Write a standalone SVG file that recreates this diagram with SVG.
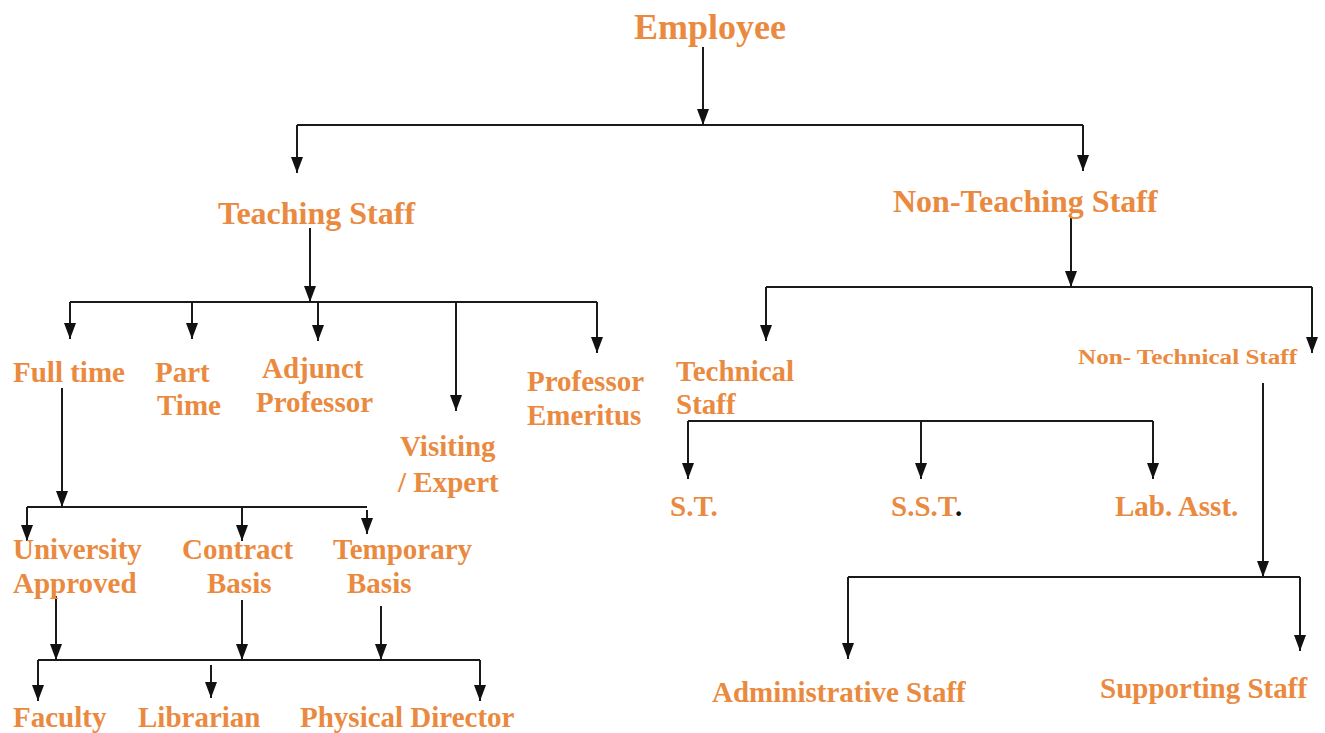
<svg xmlns="http://www.w3.org/2000/svg" width="1325" height="733" viewBox="0 0 1325 733">
  <defs>
    <marker id="arrow" viewBox="0 0 16 12" refX="16" refY="6" markerWidth="16" markerHeight="12" markerUnits="userSpaceOnUse" orient="auto">
      <path d="M0,0 L16,6 L0,12 z" fill="#111"/>
    </marker>
  </defs>
  <style>
    text { font-family: "Liberation Serif", "Times New Roman", serif; font-weight: bold; fill: #EA8A40; font-size: 29px; }
    .root { font-size: 36px; }
    .l1 { font-size: 32px; }
    .small { font-size: 20px; }
    .dot { fill: #111; }
    .bar { fill: none; stroke: #1a1a1a; stroke-width: 2; }
    .arr { fill: none; stroke: #1a1a1a; stroke-width: 2; marker-end: url(#arrow); }
  </style>
  <rect width="1325" height="733" fill="#fff"/>

  <!-- connectors -->
  <g id="connectors">
    <!-- Employee -->
    <path class="arr" d="M703,47 V125"/>
    <path class="bar" d="M297,125 H1083"/>
    <path class="arr" d="M297,125 V173"/>
    <path class="arr" d="M1083,125 V171"/>
    <!-- Teaching Staff -->
    <path class="arr" d="M310,228 V302"/>
    <path class="bar" d="M70,302 H597"/>
    <path class="arr" d="M70,302 V339"/>
    <path class="arr" d="M192,302 V339"/>
    <path class="arr" d="M318,302 V341"/>
    <path class="arr" d="M456,302 V411"/>
    <path class="arr" d="M597,302 V353"/>
    <!-- Full time -->
    <path class="arr" d="M62,388 V507"/>
    <path class="bar" d="M27,507 H367"/>
    <path class="arr" d="M27,507 V541"/>
    <path class="arr" d="M242,507 V541"/>
    <path class="arr" d="M367,510 V534"/>
    <!-- employment basis to posts -->
    <path class="arr" d="M56,596 V660"/>
    <path class="arr" d="M242,600 V660"/>
    <path class="arr" d="M381,606 V660"/>
    <path class="bar" d="M38,660 H480"/>
    <path class="arr" d="M38,660 V701"/>
    <path class="arr" d="M211,665 V698"/>
    <path class="arr" d="M480,660 V701"/>
    <!-- Non-Teaching Staff -->
    <path class="arr" d="M1071,218 V287"/>
    <path class="bar" d="M766,287 H1312"/>
    <path class="arr" d="M766,287 V341"/>
    <path class="arr" d="M1312,287 V353"/>
    <!-- Technical Staff -->
    <path class="bar" d="M688,421 H1153"/>
    <path class="arr" d="M688,421 V479"/>
    <path class="arr" d="M921,421 V479"/>
    <path class="arr" d="M1153,421 V479"/>
    <!-- Non- Technical Staff -->
    <path class="arr" d="M1263,383 V577"/>
    <path class="bar" d="M848,577 H1300"/>
    <path class="arr" d="M848,577 V659"/>
    <path class="arr" d="M1300,577 V651"/>
  </g>

  <!-- nodes -->
  <g id="employee"><text class="root" x="634" y="39">Employee</text></g>
  <g id="teaching-staff"><text class="l1" x="218" y="224">Teaching Staff</text></g>
  <g id="non-teaching-staff"><text class="l1" x="893" y="212">Non-Teaching Staff</text></g>

  <g id="full-time"><text x="13" y="382">Full time</text></g>
  <g id="part-time"><text x="155" y="382">Part</text><text x="157" y="415">Time</text></g>
  <g id="adjunct-professor"><text x="262" y="378">Adjunct</text><text x="256" y="412">Professor</text></g>
  <g id="visiting-expert"><text x="400" y="456">Visiting</text><text x="398" y="492">/ Expert</text></g>
  <g id="professor-emeritus"><text x="527" y="391">Professor</text><text x="527" y="425">Emeritus</text></g>

  <g id="university-approved"><text x="13" y="559">University</text><text x="13" y="593">Approved</text></g>
  <g id="contract-basis"><text x="182" y="559">Contract</text><text x="207" y="593">Basis</text></g>
  <g id="temporary-basis"><text x="333" y="559">Temporary</text><text x="347" y="593">Basis</text></g>

  <g id="faculty"><text x="13" y="727">Faculty</text></g>
  <g id="librarian"><text x="138" y="727">Librarian</text></g>
  <g id="physical-director"><text x="300" y="727">Physical Director</text></g>

  <g id="technical-staff"><text x="676" y="381">Technical</text><text x="676" y="414">Staff</text></g>
  <g id="non-technical-staff"><text class="small" x="1078" y="364" textLength="219" lengthAdjust="spacingAndGlyphs">Non- Technical Staff</text></g>

  <g id="st"><text x="670" y="516">S.T.</text></g>
  <g id="sst"><text x="891" y="516">S.S.T<tspan class="dot">.</tspan></text></g>
  <g id="lab-asst"><text x="1115" y="516">Lab. Asst.</text></g>

  <g id="administrative-staff"><text x="712" y="702">Administrative Staff</text></g>
  <g id="supporting-staff"><text x="1100" y="698">Supporting Staff</text></g>
</svg>
